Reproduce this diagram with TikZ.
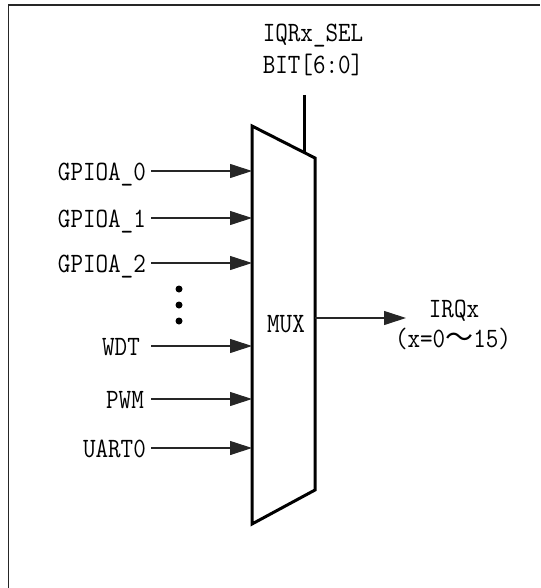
\documentclass[tikz,border=0pt]{standalone}
\usepackage{fontspec}
\newfontfamily\cjk{Noto Sans CJK SC}
\newfontfamily\lbfont{Latin Modern Mono}[FakeStretch=0.87]
\usetikzlibrary{arrows.meta}
\tikzset{
  lbl/.style={font=\fontsize{28}{32}\selectfont\lbfont, inner xsep=5pt, inner ysep=0pt, text height=18pt, text depth=0pt},
  inarrow/.style={draw=black!85, line width=1.1pt, -{Triangle[length=22pt,width=14pt]}},
  muxline/.style={draw=black, line width=3pt, line join=miter},
  frameline/.style={draw=black!85, line width=1.6pt},
  dotmark/.style={circle, fill=black, inner sep=0pt, minimum size=7pt}
}
\begin{document}
\begin{tikzpicture}[x=1pt,y=-1pt]
\useasboundingbox (0,0) rectangle (540,588);
% frame
\draw[frameline] (8.5,588) -- (8.5,5) -- (540,5);
% mux corners
\coordinate (TL) at (252,126);
\coordinate (TR) at (315,158);
\coordinate (BR) at (315,490);
\coordinate (BL) at (252,524);
\draw[muxline] (TL) -- (TR) -- (BR) -- (BL) -- cycle;
\node[lbl, inner xsep=0pt] (mux) at (286,323.5) {MUX};
% select
\node[lbl, inner xsep=0pt] (sel1) at (313,33) {IQRx\_SEL};
\node[lbl, inner xsep=0pt] (sel2) at (313,65) {BIT[6:0]};
\coordinate (selTop) at (304,95);
\coordinate (selBot) at (304,152.4);
\draw[muxline, line cap=butt] (selTop) -- (selBot);
% inputs
\node[lbl, anchor=east] (g0) at (151,171) {GPIOA\_0};
\node[lbl, anchor=east] (g1) at (151,218) {GPIOA\_1};
\node[lbl, anchor=east] (g2) at (151,263) {GPIOA\_2};
\node[lbl, anchor=east] (wdt) at (145,346) {WDT};
\node[lbl, anchor=east] (pwm) at (149,399) {PWM};
\node[lbl, anchor=east] (uart) at (151,448) {UART0};
\foreach \n in {g0,g1,g2,wdt,pwm,uart}{
  \draw[inarrow] (\n.east -| 151,0) -- (\n.east -| TL);
}
% dots
\node[dotmark] (d1) at (179,289) {};
\node[dotmark] (d2) at (179,305) {};
\node[dotmark] (d3) at (179,321) {};
% output
\coordinate (outStart) at (315,318);
\coordinate (outEnd) at (406,318);
\draw[inarrow] (outStart) -- (outEnd);
\node[lbl, inner xsep=0pt] (irq1) at (454,308) {IRQx};
\node[lbl, inner xsep=0pt] (irq2) at (453,338) {(x=0{\cjk ～}15)};
\end{tikzpicture}
\end{document}
